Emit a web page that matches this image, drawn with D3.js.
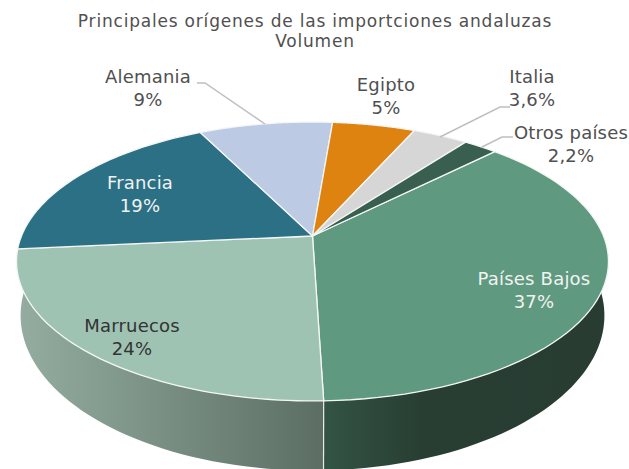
<!DOCTYPE html>
<html>
<head>
<meta charset="utf-8">
<script src="https://cdn.jsdelivr.net/npm/d3@7"></script>
<style>
  html, body { margin: 0; padding: 0; background: #fff; }
  text { font-family: "DejaVu Sans", sans-serif; }
</style>
</head>
<body>
<div id="chart"></div>
<script>
const titleLines = ["Principales orígenes de las importciones andaluzas", "Volumen"];
const countries = ["Países Bajos", "Marruecos", "Francia", "Alemania", "Egipto", "Italia", "Otros países"];
const shares = [37, 24, 19.1, 8.7, 5.4, 3.6, 2.2];
const shareLabels = ["37%", "24%", "19%", "9%", "5%", "3,6%", "2,2%"];

const W = 629, H = 469;
const colors = ["#5f9a80", "#9fc3b3", "#2c7085", "#bccae3", "#de8210", "#d6d6d6", "#385f4f"];
const labelColors = ["#f2f2f2", "#333333", "#f2f2f2", "#505050", "#505050", "#505050", "#505050"];
// label centre, first line
const labelPos = [[534, 279], [132, 326], [140, 183], [148, 77], [386, 85], [532, 77], [571, 133]];
const leaders = [
  null, null, null,
  [[197, 83], [205, 83], [265, 124]],
  null,
  [[510, 107], [500, 107], [440, 137]],
  [[513, 137], [502, 137], [482, 147]]
];

// the pie is a tilted disc, so the centre sits above the middle of the ellipse
const persp = 0.1828;
const topDisc = { x0: 312.5, y0: 236, ax: 291, ay: 134.8 };
const baseDisc = { x0: 312.5, y0: 287.2, ax: 287, ay: 149.8 };
function project(disc, a, r = 1) {
  const u = Math.sin(a) * r, v = -Math.cos(a) * r;
  const den = 1 - persp * v;
  return [disc.x0 + disc.ax * u / den, disc.y0 + disc.ay * v / den];
}
const rad = (d) => d * Math.PI / 180;
const samples = (a0, a1) => d3.range(0, 61).map(i => a0 + (a1 - a0) * i / 60);
const line = d3.line();

const svg = d3.select("#chart").append("svg").attr("width", W).attr("height", H).style("display", "block");

const pie = d3.pie().value(d => d).sort(null).startAngle(rad(45)).endAngle(rad(405));
const arcs = pie(shares);

const defs = svg.append("defs");
function grad(id, x1, x2, stops) {
  defs.append("linearGradient").attr("id", id)
    .attr("gradientUnits", "userSpaceOnUse")
    .attr("x1", x1).attr("x2", x2).attr("y1", 0).attr("y2", 0)
    .selectAll("stop").data(stops).join("stop")
    .attr("offset", d => d[0]).attr("stop-color", d => d[1]);
}
grad("wall-left", 18, 323, [[0, "#94ada0"], [1, "#5c6e64"]]);
grad("wall-right", 323, 605, [[0, "#335444"], [0.35, "#283e33"], [1, "#283c32"]]);

// side wall, only the part that faces the viewer
const edgeAngle = rad(71);
function wallPath(a0, a1) {
  const pts = samples(a0, a1);
  return line(pts.map(a => project(topDisc, a)).concat(pts.reverse().map(a => project(baseDisc, a)))) + "Z";
}
const splitAngle = arcs[0].endAngle;
svg.append("path").attr("d", wallPath(edgeAngle, splitAngle)).attr("fill", "url(#wall-right)");
svg.append("path").attr("d", wallPath(splitAngle, rad(360) - edgeAngle)).attr("fill", "url(#wall-left)");
svg.append("path")
  .attr("d", line([project(topDisc, splitAngle), project(baseDisc, splitAngle)]))
  .attr("stroke", "#e8ece9").attr("stroke-width", 1.2).attr("fill", "none");

// top face
svg.selectAll(".slice").data(arcs).join("path")
  .attr("class", "slice")
  .attr("d", d => line([[topDisc.x0, topDisc.y0]].concat(samples(d.startAngle, d.endAngle).map(a => project(topDisc, a)))) + "Z")
  .attr("fill", (d, i) => colors[i])
  .attr("stroke", "#f4f6f5").attr("stroke-width", 1.3).attr("stroke-linejoin", "round");

// leader lines
svg.selectAll(".leader").data(leaders.filter(d => d)).join("path")
  .attr("class", "leader")
  .attr("d", d => line(d))
  .attr("fill", "none").attr("stroke", "#bfbfbf").attr("stroke-width", 1.5);

// labels
countries.forEach((c, i) => {
  const [x, y] = labelPos[i];
  const t = svg.append("text").attr("text-anchor", "middle").attr("fill", labelColors[i])
    .style("font-size", "18px").style("letter-spacing", "0.2px");
  t.append("tspan").attr("x", x).attr("y", y).attr("dy", "0.35em").text(c);
  t.append("tspan").attr("x", x).attr("y", y + 23).attr("dy", "0.35em").text(shareLabels[i]);
});

// title
svg.selectAll(".title").data(titleLines).join("text")
  .attr("class", "title")
  .attr("x", 315).attr("y", (d, i) => 21 + i * 20).attr("dy", "0.35em")
  .attr("text-anchor", "middle").attr("fill", "#505050")
  .style("font-size", "17px").style("letter-spacing", "0.8px")
  .text(d => d);
</script>
</body>
</html>
